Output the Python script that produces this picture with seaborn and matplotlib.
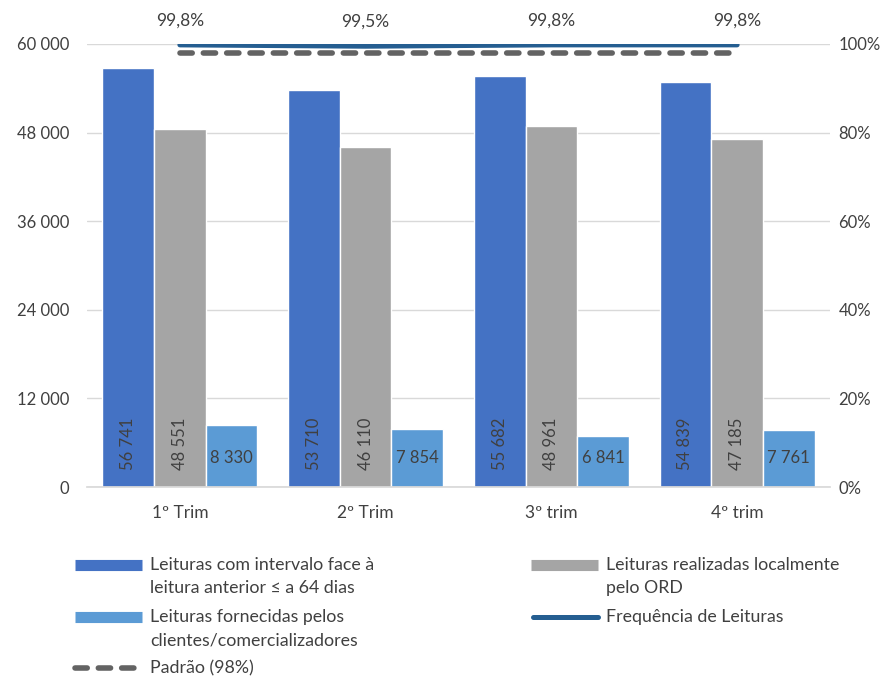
import numpy as np
import pandas as pd
import matplotlib
matplotlib.use("Agg")
import matplotlib.pyplot as plt
import seaborn as sns
from matplotlib.lines import Line2D

categories = ["1º Trim", "2º Trim", "3º trim", "4º trim"]
series_names = [
    "Leituras com intervalo face à\nleitura anterior ≤ a 64 dias",
    "Leituras realizadas localmente\npelo ORD",
    "Leituras fornecidas pelos\nclientes/comercializadores",
]
leituras_intervalo = [56741, 53710, 55682, 54839]
leituras_locais = [48551, 46110, 48961, 47185]
leituras_fornecidas = [8330, 7854, 6841, 7761]
frequencia = [99.8, 99.5, 99.8, 99.8]
frequencia_labels = ["99,8%", "99,5%", "99,8%", "99,8%"]
padrao = [98, 98, 98, 98]
line_names = ["Frequência de Leituras", "Padrão (98%)"]
y_ticks = [0, 12000, 24000, 36000, 48000, 60000]
y_tick_labels = ["0", "12 000", "24 000", "36 000", "48 000", "60 000"]
y2_ticks = [0, 20, 40, 60, 80, 100]
y2_tick_labels = ["0%", "20%", "40%", "60%", "80%", "100%"]

colors = ["#4472C4", "#A5A5A5", "#5B9BD5"]
line_color = "#255E91"
dash_color = "#636363"
text_color = "#404040"
DASH = (0, (2.2, 2.0))

sns.set_theme(style="white")
plt.rcParams["font.family"] = ["Lato", "DejaVu Sans"]

df = pd.DataFrame({
    "cat": categories * 3,
    "serie": [series_names[0]] * 4 + [series_names[1]] * 4 + [series_names[2]] * 4,
    "val": leituras_intervalo + leituras_locais + leituras_fornecidas,
})

W, H = 893, 677
fig = plt.figure(figsize=(W / 100, H / 100), dpi=100)
ax = fig.add_axes([87 / W, 1 - 487 / H, (830 - 87) / W, (487 - 44) / H])
sns.barplot(data=df, x="cat", y="val", hue="serie", palette=colors,
            width=0.835, gap=0, ax=ax, legend=False, saturation=1)

ax.set_xlim(-0.5, 3.5)
ax.set_ylim(0, 60000)
ax.set_yticks(y_ticks)
ax.set_yticklabels(y_tick_labels)
ax.set_xlabel("")
ax.set_ylabel("")
ax.grid(axis="y", color="#D9D9D9", lw=1)
ax.set_axisbelow(True)
for s in ["top", "right", "left"]:
    ax.spines[s].set_visible(False)
ax.spines["bottom"].set_color("#D9D9D9")
ax.tick_params(axis="both", length=0, labelsize=12, colors=text_color)
ax.tick_params(axis="x", pad=13, labelsize=12.5)
ax.tick_params(axis="y", pad=13)

for cont in ax.containers:
    for bar in cont:
        h = bar.get_height()
        xc = bar.get_x() + bar.get_width() / 2
        lbl = f"{int(h):,}".replace(",", " ")
        if h > 20000:
            ax.text(xc, 2300, lbl, rotation=90, ha="center", va="bottom",
                    fontsize=12, color=text_color)
        else:
            ax.text(xc, 3900, lbl, ha="center", va="center",
                    fontsize=12, color=text_color)

ax2 = ax.twinx()
xs = np.arange(len(categories))
ax2.plot(xs, frequencia, color=line_color, lw=3.6, solid_capstyle="round")
ax2.plot(xs, padrao, color=dash_color, lw=4.0, linestyle=DASH,
         dash_capstyle="round")
ax2.set_ylim(0, 100)
ax2.set_yticks(y2_ticks)
ax2.set_yticklabels(y2_tick_labels)
ax2.tick_params(axis="y", length=0, labelsize=12, colors=text_color, pad=6)
for s in ax2.spines.values():
    s.set_visible(False)
ax2.grid(False)
for x, v, l in zip(xs, frequencia, frequencia_labels):
    ax2.annotate(l, (x, v), xytext=(0, 17.5), textcoords="offset points",
                 ha="center", va="center", fontsize=12.5, color=text_color,
                 annotation_clip=False)

# legend drawn manually (handles aligned with first text line, as in reference)
def fx(px):
    return px / W

def fy(py):
    return 1 - py / H

leg_items = [
    (dict(color=colors[0], lw=8, solid_capstyle="butt"), series_names[0], 75, 142, 150, 565),
    (dict(color=colors[1], lw=8, solid_capstyle="butt"), series_names[1], 531, 598, 606, 565),
    (dict(color=colors[2], lw=8, solid_capstyle="butt"), series_names[2], 75, 142, 150, 617),
    (dict(color=line_color, lw=3.6, solid_capstyle="round"), line_names[0], 533, 598, 606, 617),
    (dict(color=dash_color, lw=4.0, linestyle=DASH, dash_capstyle="round"), line_names[1], 75, 138, 150, 668),
]
for style, label, x0, x1, xt, yc in leg_items:
    fig.add_artist(Line2D([fx(x0), fx(x1)], [fy(yc), fy(yc)],
                          transform=fig.transFigure, **style))
    for i, line in enumerate(label.split("\n")):
        fig.text(fx(xt), fy(yc + 23 * i), line, ha="left", va="center",
                 fontsize=12.8, color=text_color)

fig.savefig("out.png", dpi=100)
